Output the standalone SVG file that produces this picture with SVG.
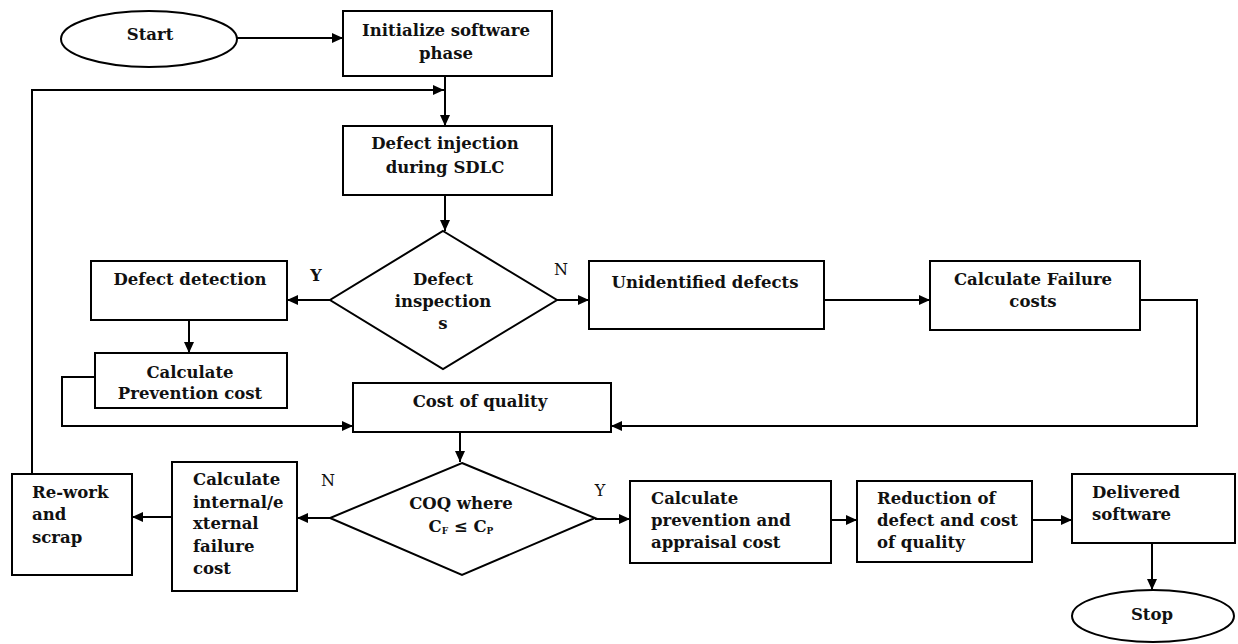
<svg xmlns="http://www.w3.org/2000/svg" width="1238" height="644" viewBox="0 0 1238 644">
<defs>
<marker id="arr" markerUnits="userSpaceOnUse" markerWidth="12" markerHeight="10" refX="11" refY="5" orient="auto">
<path d="M0,0 L11,5 L0,10 z" fill="#000"/>
</marker>
<style>
.box{fill:#fff;stroke:#000;stroke-width:2}
.t{font-family:"DejaVu Serif","Liberation Serif",serif;font-weight:bold;font-size:16.5px;fill:#111}
.c{text-anchor:middle}
.lbl{font-family:"DejaVu Serif","Liberation Serif",serif;font-size:16px;fill:#111}
.ln{fill:none;stroke:#000;stroke-width:2}
.a{marker-end:url(#arr)}
</style>
</defs>
<rect width="1238" height="644" fill="#fff"/>
<g id="connectors">
<path class="ln a" d="M237,38 H343"/>
<path class="ln a" d="M445,76 V126"/>
<path class="ln a" d="M32,474 V90 H444"/>
<path class="ln a" d="M445,195 V231"/>
<path class="ln a" d="M330,300 H287"/>
<path class="ln a" d="M557,300 H589"/>
<path class="ln a" d="M189,320 V353"/>
<path class="ln a" d="M95,377 H62 V426 H353"/>
<path class="ln a" d="M824,300 H930"/>
<path class="ln a" d="M1140,300 H1197 V426 H611"/>
<path class="ln a" d="M460,432 V462"/>
<path class="ln a" d="M330,518 H297"/>
<path class="ln a" d="M172,517 H132"/>
<path class="ln a" d="M595,519 H630"/>
<path class="ln a" d="M831,520 H857"/>
<path class="ln a" d="M1032,520 H1072"/>
<path class="ln a" d="M1152,543 V590"/>
</g>
<g id="start">
<ellipse class="box" cx="149" cy="39" rx="88" ry="28"/>
<text class="t c" x="150" y="40">Start</text>
</g>
<g id="init">
<rect class="box" x="343" y="11" width="209" height="65"/>
<text class="t c" x="446" y="36">Initialize software</text>
<text class="t c" x="446" y="59">phase</text>
</g>
<g id="injection">
<rect class="box" x="343" y="126" width="209" height="69"/>
<text class="t c" x="445" y="149">Defect injection</text>
<text class="t c" x="445" y="173">during SDLC</text>
</g>
<g id="inspect">
<polygon class="box" points="443,231 557,300 443,369 330,300"/>
<text class="t c" x="443" y="285">Defect</text>
<text class="t c" x="443" y="307">inspection</text>
<text class="t c" x="443" y="329">s</text>
<text class="lbl c" x="316" y="281" font-weight="bold">Y</text>
<text class="lbl c" x="561" y="275">N</text>
</g>
<g id="detection">
<rect class="box" x="91" y="261" width="196" height="59"/>
<text class="t c" x="190" y="285">Defect detection</text>
</g>
<g id="prevention">
<rect class="box" x="95" y="353" width="192" height="55"/>
<text class="t c" x="190" y="378">Calculate</text>
<text class="t c" x="190" y="399">Prevention cost</text>
</g>
<g id="unidentified">
<rect class="box" x="589" y="261" width="235" height="68"/>
<text class="t c" x="705" y="288">Unidentified defects</text>
</g>
<g id="failure">
<rect class="box" x="930" y="261" width="210" height="69"/>
<text class="t c" x="1033" y="285">Calculate Failure</text>
<text class="t c" x="1033" y="307">costs</text>
</g>
<g id="coq">
<rect class="box" x="353" y="383" width="258" height="49"/>
<text class="t c" x="480" y="407">Cost of quality</text>
</g>
<g id="coqdecision">
<polygon class="box" points="462,463 595,518 462,575 330,518"/>
<text class="t c" x="461" y="509">COQ where</text>
<text class="t c" x="461" y="532">C<tspan font-size="9" dy="2">F</tspan><tspan dy="-2"> </tspan>≤ C<tspan font-size="9" dy="2">P</tspan></text>
<text class="lbl c" x="328" y="486">N</text>
<text class="lbl c" x="600" y="496">Y</text>
</g>
<g id="internal">
<rect class="box" x="172" y="462" width="125" height="129"/>
<text class="t" x="193" y="485">Calculate</text>
<text class="t" x="193" y="508">internal/e</text>
<text class="t" x="193" y="529">xternal</text>
<text class="t" x="193" y="552">failure</text>
<text class="t" x="193" y="574">cost</text>
</g>
<g id="rework">
<rect class="box" x="12" y="474" width="120" height="101"/>
<text class="t" x="32" y="498">Re-work</text>
<text class="t" x="32" y="520">and</text>
<text class="t" x="32" y="543">scrap</text>
</g>
<g id="appraisal">
<rect class="box" x="630" y="481" width="201" height="82"/>
<text class="t" x="651" y="504">Calculate</text>
<text class="t" x="651" y="526">prevention and</text>
<text class="t" x="651" y="548">appraisal cost</text>
</g>
<g id="reduction">
<rect class="box" x="857" y="481" width="175" height="81"/>
<text class="t" x="877" y="504">Reduction of</text>
<text class="t" x="877" y="526">defect and cost</text>
<text class="t" x="877" y="548">of quality</text>
</g>
<g id="delivered">
<rect class="box" x="1072" y="474" width="163" height="69"/>
<text class="t" x="1092" y="498">Delivered</text>
<text class="t" x="1092" y="520">software</text>
</g>
<g id="stop">
<ellipse class="box" cx="1153" cy="616" rx="81" ry="26"/>
<text class="t c" x="1152" y="620">Stop</text>
</g>
</svg>
